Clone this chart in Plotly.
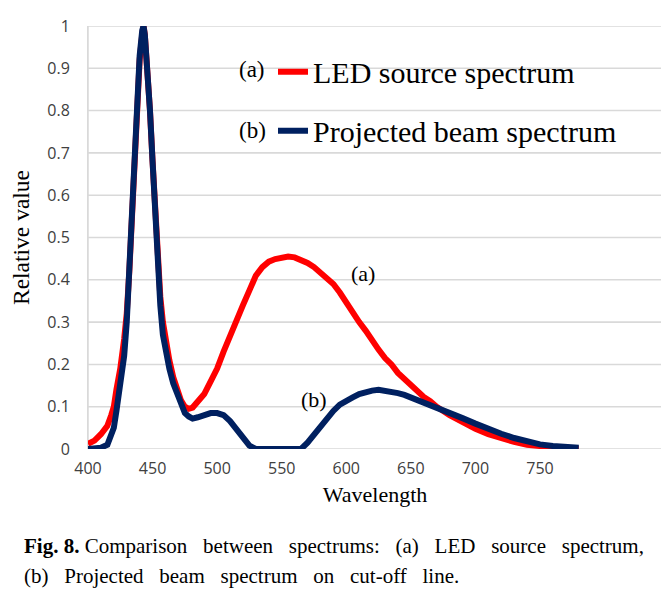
import plotly.graph_objects as go

# Wavelength (nm) and relative values
wl_led = [400, 405, 410, 415, 418, 420, 422, 425, 428, 430, 432, 434, 436, 438, 440, 442, 443, 444, 446, 448,
          450, 452, 454, 456, 458, 460, 463, 466, 469, 472, 475, 478, 481, 485, 490, 495, 500, 505, 510, 515,
          520, 525, 530, 535, 540, 545, 550, 555, 560, 565, 570, 575, 580, 585, 590, 595, 600, 605, 610, 615,
          620, 625, 630, 635, 640, 645, 650, 655, 660, 665, 670, 680, 690, 700, 710, 720, 730, 740, 750, 760,
          770, 780]
led = [0.012, 0.02, 0.035, 0.055, 0.08, 0.1, 0.14, 0.19, 0.26, 0.32, 0.42, 0.56, 0.7, 0.83, 0.92, 0.98, 1.0, 0.98, 0.9, 0.8,
       0.68, 0.56, 0.45, 0.36, 0.3, 0.26, 0.21, 0.17, 0.14, 0.115, 0.1, 0.095, 0.098, 0.11, 0.13, 0.16, 0.19, 0.23, 0.27, 0.3,
       0.34, 0.375, 0.41, 0.43, 0.443, 0.449, 0.453, 0.455, 0.453, 0.448, 0.44, 0.43, 0.418, 0.405, 0.39, 0.37, 0.345, 0.32, 0.3, 0.28,
       0.255, 0.235, 0.215, 0.2, 0.18, 0.165, 0.15, 0.135, 0.123, 0.113, 0.1, 0.08, 0.063, 0.048, 0.035, 0.025, 0.017, 0.01, 0.006, 0.003,
       0.001, 0.0]

wl_beam = [400, 405, 410, 415, 418, 420, 422, 425, 428, 430, 432, 434, 436, 438, 440, 442, 443, 444, 446, 448,
           450, 452, 454, 456, 458, 460, 463, 466, 469, 472, 475, 478, 481, 485, 490, 495, 500, 505, 510, 515,
           520, 525, 530, 540, 550, 560, 565, 570, 575, 580, 585, 590, 595, 600, 605, 610, 615, 620, 625, 630,
           635, 640, 645, 650, 655, 660, 665, 670, 680, 690, 700, 710, 720, 730, 740, 750, 760, 770, 780]
beam = [0.0, 0.0, 0.003, 0.01, 0.03, 0.05, 0.09, 0.15, 0.22, 0.3, 0.42, 0.58, 0.72, 0.85, 0.93, 0.99, 1.0, 0.98, 0.9, 0.8,
        0.68, 0.55, 0.43, 0.34, 0.27, 0.23, 0.19, 0.155, 0.13, 0.105, 0.085, 0.077, 0.072, 0.075, 0.08, 0.085, 0.085, 0.08, 0.066, 0.045,
        0.025, 0.008, 0.0, 0.0, 0.0, 0.0, 0.0, 0.015, 0.035, 0.05, 0.07, 0.09, 0.105, 0.115, 0.122, 0.13, 0.135, 0.138, 0.14, 0.138,
        0.135, 0.132, 0.128, 0.122, 0.117, 0.112, 0.106, 0.1, 0.085, 0.073, 0.06, 0.047, 0.036, 0.026, 0.017, 0.011, 0.007, 0.005, 0.003]

x_ticks = [400, 450, 500, 550, 600, 650, 700, 750]
x_range = [400, 844.5]
y_ticks = [0, 0.1, 0.2, 0.3, 0.4, 0.5, 0.6, 0.7, 0.8, 0.9, 1]
y_ticktext = ["0", "0.1", "0.2", "0.3", "0.4", "0.5", "0.6", "0.7", "0.8", "0.9", "1"]

RED = "#ff0000"
BLUE = "#002060"
GRID = "#d9d9d9"
SERIF = "Liberation Serif, Times New Roman, serif"
SANS = "Open Sans, Noto Sans, sans-serif"

# Plot area in screen pixels (page has an 8px body margin)
PL, PT, PW, PH = 88, 18, 574, 431


def px_x(px):
    return (px - PL) / PW


def px_y(py):
    return (PT + PH - py) / PH


fig = go.Figure()

# Horizontal gridlines as a background trace built from the y tick values
grid_x, grid_y = [], []
for v in y_ticks:
    grid_x += [x_range[0], x_range[1], None]
    grid_y += [v, v, None]
grid_x += [x_range[0], x_range[0], None]
grid_y += [y_ticks[0], y_ticks[-1], None]
fig.add_trace(go.Scatter(x=grid_x, y=grid_y, mode="lines", line=dict(color=GRID, width=1.5),
                         showlegend=False, hoverinfo="skip", cliponaxis=False))

fig.add_trace(go.Scatter(x=wl_led, y=led, mode="lines", name="LED source spectrum",
                         line=dict(color=RED, width=6), legendgroup="a"))
fig.add_trace(go.Scatter(x=wl_beam, y=beam, mode="lines", name="Projected beam spectrum",
                         line=dict(color=BLUE, width=6), legendgroup="b"))

fig.update_layout(
    width=661, height=588,
    margin=dict(l=PL - 8, r=7, t=PT - 8, b=147),
    paper_bgcolor="white", plot_bgcolor="white",
    showlegend=True,
    legend=dict(x=px_x(273), y=px_y(38), xanchor="left", yanchor="top",
                font=dict(family=SERIF, size=30, color="black"),
                tracegroupgap=17, traceorder="grouped",
                bgcolor="rgba(0,0,0,0)"),
    xaxis=dict(range=x_range, tickvals=x_ticks, showgrid=False, zeroline=False,
               showline=False, ticks="", ticklen=0, ticklabelstandoff=8,
               tickfont=dict(family=SANS, size=16, color="#404040"),
               title=dict(text="Wavelength", font=dict(family=SERIF, size=22, color="black"), standoff=8)),
    yaxis=dict(range=[0, 1], tickvals=y_ticks, ticktext=y_ticktext,
               showgrid=True, gridcolor=GRID, gridwidth=1, zeroline=False,
               showline=True, linecolor=GRID, linewidth=1, ticks="", ticklen=0, ticklabelstandoff=14,
               ticklabeloverflow="allow",
               tickfont=dict(family=SANS, size=16, color="#404040"),
               title=dict(text="Relative value", font=dict(family=SERIF, size=23.5, color="black"), standoff=11)),
)

annos = [
    dict(x=613, y=0.415, xref="x", yref="y", text="(a)", showarrow=False,
         font=dict(family=SERIF, size=22, color="black")),
    dict(x=575, y=0.118, xref="x", yref="y", text="(b)", showarrow=False,
         font=dict(family=SERIF, size=22, color="black")),
    dict(x=px_x(252), y=px_y(62), xref="paper", yref="paper", text="(a)", showarrow=False,
         xanchor="center", yanchor="middle", font=dict(family=SERIF, size=23, color="black")),
    dict(x=px_x(252), y=px_y(124), xref="paper", yref="paper", text="(b)", showarrow=False,
         xanchor="center", yanchor="middle", font=dict(family=SERIF, size=23, color="black")),
]

S3 = " \u00a0\u00a0"
caption1 = S3.join(["<b>Fig. 8.</b> Comparison", "between", "spectrums:", "(a)", "LED", "source", "spectrum,"])
caption2 = S3.join(["(b)", "Projected", "beam", "spectrum", "on", "cut-off", "line."])
annos.append(dict(x=px_x(22), y=px_y(548), xref="paper", yref="paper", text=caption1, showarrow=False,
                  xanchor="left", yanchor="middle", font=dict(family=SERIF, size=21, color="black")))
annos.append(dict(x=px_x(22), y=px_y(578), xref="paper", yref="paper", text=caption2, showarrow=False,
                  xanchor="left", yanchor="middle", font=dict(family=SERIF, size=21, color="black")))

fig.update_layout(annotations=annos)
fig.write_html("out.html")
